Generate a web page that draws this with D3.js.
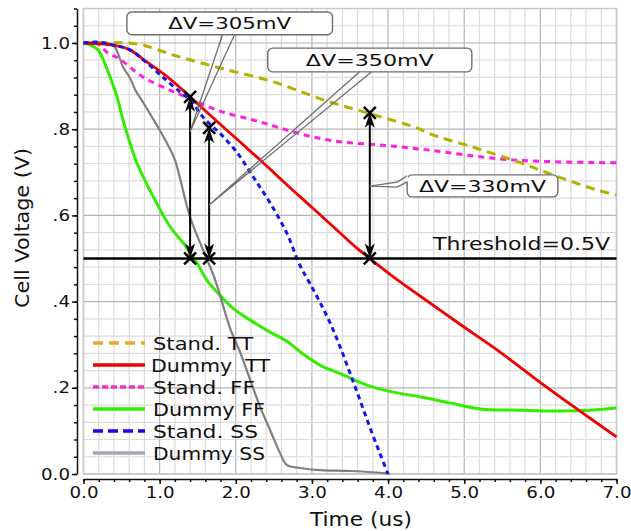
<!DOCTYPE html>
<html>
<head>
<meta charset="utf-8">
<script src="https://cdn.jsdelivr.net/npm/d3@7"></script>
<style>
    body { margin: 0; background: #fff; }
    text { font-family: "DejaVu Sans", sans-serif; fill: #111; }
</style>
</head>
<body>
<div id="chart"></div>
<script>
// curves: [time (us), voltage (V)]
const standTT = [[0,1.0],[0.57,1.0],[0.78,0.995],[1.18,0.972],[1.79,0.942],[2.49,0.910],[3.15,0.868],[3.76,0.836],[4.38,0.803],[4.55,0.789],[5.14,0.757],[5.71,0.724],[6.13,0.696],[6.74,0.659],[7.0,0.647]];
const dummyTT = [[0,1.0],[0.39,0.995],[0.61,0.984],[0.83,0.956],[1.04,0.930],[1.27,0.896],[1.40,0.875],[1.66,0.833],[2.02,0.776],[2.36,0.722],[2.67,0.671],[3.01,0.617],[3.37,0.559],[3.59,0.524],[3.76,0.500],[4.11,0.452],[4.42,0.413],[4.94,0.348],[5.47,0.283],[6.01,0.211],[6.52,0.146],[7.0,0.086]];
const standFF = [[0,1.0],[0.18,0.998],[0.32,0.977],[0.48,0.962],[0.78,0.921],[1.14,0.890],[1.36,0.874],[1.79,0.842],[2.32,0.817],[2.67,0.798],[3.01,0.782],[3.41,0.770],[3.93,0.763],[4.51,0.752],[5.60,0.729],[7.0,0.722]];
const dummyFF = [[0,1.0],[0.09,0.995],[0.19,0.984],[0.26,0.961],[0.35,0.921],[0.44,0.875],[0.52,0.821],[0.61,0.768],[0.70,0.722],[0.87,0.659],[1.14,0.573],[1.31,0.536],[1.49,0.490],[1.62,0.450],[1.79,0.415],[1.96,0.385],[2.19,0.357],[2.45,0.329],[2.67,0.308],[2.88,0.279],[3.11,0.252],[3.41,0.230],[3.76,0.204],[4.07,0.190],[4.42,0.179],[4.81,0.165],[5.21,0.151],[5.73,0.148],[6.26,0.146],[6.65,0.148],[7.0,0.153]];
const standSS = [[0,1.0],[0.18,1.002],[0.39,0.995],[0.61,0.984],[0.83,0.954],[1.04,0.921],[1.27,0.886],[1.40,0.868],[1.57,0.828],[1.70,0.805],[1.79,0.791],[2.02,0.745],[2.23,0.689],[2.45,0.629],[2.67,0.559],[2.84,0.485],[2.97,0.443],[3.11,0.397],[3.24,0.350],[3.37,0.295],[3.50,0.234],[3.63,0.172],[3.76,0.109],[3.89,0.049],[4.0,0.0]];
const dummySS = [[0,1.0],[0.22,1.002],[0.39,0.995],[0.45,0.977],[0.52,0.944],[0.61,0.919],[0.68,0.891],[0.78,0.863],[0.90,0.828],[1.00,0.798],[1.11,0.763],[1.20,0.729],[1.40,0.596],[1.57,0.520],[1.73,0.450],[1.92,0.341],[2.06,0.281],[2.19,0.218],[2.32,0.155],[2.45,0.102],[2.58,0.049],[2.67,0.021],[2.84,0.014],[3.11,0.009],[3.50,0.007],[3.96,0.002],[4.02,0.0]];

const seriesNames = ["Stand. TT", "Dummy  TT", "Stand. FF", "Dummy FF", "Stand. SS", "Dummy SS"];

const threshold = 0.5;
const thresholdLabel = "Threshold=0.5V";

// the three delta-V measurements: time, upper voltage, callout text, callout anchor voltage
const deltaTimes = [1.40, 1.65, 3.76];
const deltaTops = [0.875, 0.803, 0.838];
const deltaLabels = ["ΔV=305mV", "ΔV=350mV", "ΔV=330mV"];
const calloutAnchorV = [0.794, 0.624, 0.668];

const xTicks = [0, 1, 2, 3, 4, 5, 6, 7];
const xTickLabels = ["0.0", "1.0", "2.0", "3.0", "4.0", "5.0", "6.0", "7.0"];
const yTicks = [0, 0.2, 0.4, 0.6, 0.8, 1.0];
const yTickLabels = ["0.0", ".2", ".4", ".6", ".8", "1.0"];

class VoltageChart {

    constructor(parentElement) {
        this.parentElement = parentElement;
        this.initVis();
    }

    initVis() {
        let vis = this;
        vis.width = 631;
        vis.height = 531;
        vis.box = {left: 83.5, right: 616.5, top: 8.5, bottom: 474};

        vis.svg = d3.select("#" + vis.parentElement).append("svg")
            .attr("width", vis.width)
            .attr("height", vis.height);

        vis.x = d3.scaleLinear().domain([0, 7]).range([vis.box.left, vis.box.right]);
        vis.y = d3.scaleLinear().domain([0, 1.08]).range([vis.box.bottom, vis.box.top]);

        // grid
        let grid = vis.svg.append("g").attr("class", "grid");
        let xs = d3.range(0, 7.001, 0.2);
        let ys = d3.range(0, 1.081, 0.04);
        let isInt = v => Math.abs(v - Math.round(v)) < 1e-6;
        let isFifth = v => Math.abs(v * 5 - Math.round(v * 5)) < 1e-6;

        grid.selectAll(".vgrid").data(xs).enter().append("line")
            .attr("x1", d => vis.x(d)).attr("x2", d => vis.x(d))
            .attr("y1", vis.box.top).attr("y2", vis.box.bottom)
            .attr("stroke", d => isInt(d) ? "#b4b4b4" : "#dcdcdc")
            .attr("stroke-width", 1.2);
        grid.selectAll(".hgrid").data(ys).enter().append("line")
            .attr("x1", vis.box.left).attr("x2", vis.box.right)
            .attr("y1", d => vis.y(d)).attr("y2", d => vis.y(d))
            .attr("stroke", d => isFifth(d) ? "#b4b4b4" : "#dcdcdc")
            .attr("stroke-width", 1.2);
        grid.append("rect")
            .attr("x", vis.box.left).attr("y", vis.box.top)
            .attr("width", vis.box.right - vis.box.left)
            .attr("height", vis.box.bottom - vis.box.top)
            .attr("fill", "none").attr("stroke", "#c8c8c8").attr("stroke-width", 1.5);

        // axes, offset a few px from the plot box
        vis.svg.append("g").attr("transform", "translate(77,0)")
            .call(d3.axisLeft(vis.y).tickValues(yTicks)
                .tickFormat((d, i) => yTickLabels[i]).tickSize(5).tickSizeOuter(0).tickPadding(2));
        vis.svg.append("g").attr("transform", "translate(77,0)")
            .call(d3.axisLeft(vis.y).tickValues(ys).tickFormat("").tickSize(3).tickSizeOuter(0))
            .select(".domain").remove();

        vis.svg.append("g").attr("transform", "translate(0,479)")
            .call(d3.axisBottom(vis.x).tickValues(xTicks)
                .tickFormat((d, i) => xTickLabels[i]).tickSize(5).tickSizeOuter(0).tickPadding(3));
        vis.svg.append("g").attr("transform", "translate(0,479)")
            .call(d3.axisBottom(vis.x).tickValues(xs).tickFormat("").tickSize(3).tickSizeOuter(0))
            .select(".domain").remove();

        // tick labels in the original are a little wider than the font
        vis.svg.selectAll(".tick text")
            .style("font-size", "16px").attr("fill", "#111")
            .each(function () {
                let w = this.getComputedTextLength();
                if (w > 0) d3.select(this).attr("textLength", w * 1.14).attr("lengthAdjust", "spacingAndGlyphs");
            });
        vis.svg.selectAll(".domain, .tick line").attr("stroke", "#111").attr("stroke-width", 1.5);

        vis.svg.append("text")
            .attr("x", 361).attr("y", 526)
            .attr("text-anchor", "middle")
            .attr("textLength", 102).attr("lengthAdjust", "spacingAndGlyphs")
            .style("font-size", "19px")
            .text("Time (us)");
        vis.svg.append("text")
            .attr("transform", "translate(29,228) rotate(-90)")
            .attr("text-anchor", "middle")
            .attr("textLength", 160).attr("lengthAdjust", "spacingAndGlyphs")
            .style("font-size", "20px")
            .text("Cell Voltage (V)");

        vis.series = [
            {name: seriesNames[0], values: standTT, color: "#b5b000", legendColor: "#e6a825", width: 3, dash: "9,6", legendDash: "10,6"},
            {name: seriesNames[1], values: dummyTT, color: "#ee0000", legendColor: "#ee0000", width: 2.8, dash: null, legendDash: null},
            {name: seriesNames[2], values: standFF, color: "#ff1fdd", legendColor: "#ee33cc", width: 3, dash: "6,5", legendDash: "6,3"},
            {name: seriesNames[3], values: dummyFF, color: "#33ee00", legendColor: "#33ee00", width: 3, dash: null, legendDash: null},
            {name: seriesNames[4], values: standSS, color: "#1515ee", legendColor: "#2200ee", width: 3, dash: "5,4", legendDash: "10,5"},
            {name: seriesNames[5], values: dummySS, color: "#808080", legendColor: "#a6a6b8", width: 2.2, dash: null, legendDash: null}
        ];

        vis.updateVis();
    }

    updateVis() {
        let vis = this;

        let line = d3.line()
            .x(d => vis.x(d[0]))
            .y(d => vis.y(d[1]))
            .curve(d3.curveCatmullRom.alpha(0.5));

        // draw order so the red line stays on top like the original
        let order = [3, 5, 2, 0, 1, 4];
        vis.svg.append("g").selectAll(".curve")
            .data(order.map(i => vis.series[i]))
            .enter().append("path")
            .attr("class", "curve")
            .attr("d", d => line(d.values))
            .attr("fill", "none")
            .attr("stroke", d => d.color)
            .attr("stroke-width", d => d.width)
            .attr("stroke-dasharray", d => d.dash)
            .attr("stroke-linejoin", "round");

        // threshold
        vis.svg.append("line")
            .attr("x1", vis.box.left).attr("x2", vis.box.right)
            .attr("y1", vis.y(threshold)).attr("y2", vis.y(threshold))
            .attr("stroke", "#000").attr("stroke-width", 2.6);
        vis.svg.append("text")
            .attr("x", 610).attr("y", vis.y(threshold) - 8)
            .attr("text-anchor", "end")
            .attr("textLength", 177).attr("lengthAdjust", "spacingAndGlyphs")
            .style("font-size", "17px")
            .text(thresholdLabel);

        // delta-V arrows with x markers
        let arrows = vis.svg.append("g");
        let head = "M0,0 L-5,15 L0,11 L5,15 Z";
        deltaTimes.forEach((t, i) => {
            let px = vis.x(t), top = vis.y(deltaTops[i]), bot = vis.y(threshold);
            arrows.append("line")
                .attr("x1", px).attr("x2", px).attr("y1", top + 8).attr("y2", bot - 8)
                .attr("stroke", "#000").attr("stroke-width", 2);
            arrows.append("path").attr("d", head)
                .attr("transform", `translate(${px},${top})`).attr("fill", "#000");
            arrows.append("path").attr("d", head)
                .attr("transform", `translate(${px},${bot}) rotate(180)`).attr("fill", "#000");
            [top, bot].forEach(py => {
                arrows.append("path")
                    .attr("d", `M${px - 6},${py - 6}L${px + 6},${py + 6}M${px - 6},${py + 6}L${px + 6},${py - 6}`)
                    .attr("stroke", "#000").attr("stroke-width", 2.5);
            });
        });

        // callouts
        let c = vis.svg.append("g");
        let boxStyle = sel => sel.attr("fill", "#fff").attr("stroke", "#6e6e6e").attr("stroke-width", 1.4);
        let wedgeStyle = sel => sel.attr("fill", "none").attr("stroke", "#6e6e6e").attr("stroke-width", 1.3);

        // box extents in data units [t0, t1, v0, v1]
        let boxes = [[0.57, 3.27, 1.019, 1.072], [2.42, 5.10, 0.933, 0.988], [4.25, 6.23, 0.643, 0.694]];
        let textLen = [123, 128, 127];

        boxes.forEach((b, i) => {
            let ax = vis.x(deltaTimes[i]), ay = vis.y(calloutAnchorV[i]);
            let x0 = vis.x(b[0]), x1 = vis.x(b[1]), y0 = vis.y(b[3]), y1 = vis.y(b[2]);
            c.append("rect")
                .attr("x", x0).attr("y", y0).attr("width", x1 - x0).attr("height", y1 - y0)
                .attr("rx", 5).call(boxStyle);
            if (i < 2) {
                let bx = x0 + (x1 - x0) * (i === 0 ? 0.465 : 0.45);
                c.append("path")
                    .attr("d", `M${bx},${y1}L${ax},${ay}L${bx + 12},${y1}`)
                    .call(wedgeStyle);
            } else {
                c.append("path")
                    .attr("d", `M${x0},${y0 + 1}L${x0 - 10},${ay - 4}L${ax},${ay}L${x0 - 10},${ay + 1}L${x0},${y0 + 7}`)
                    .call(wedgeStyle);
                c.append("line")
                    .attr("x1", x0).attr("x2", x0).attr("y1", y0 + 1.5).attr("y2", y0 + 6.5)
                    .attr("stroke", "#fff").attr("stroke-width", 2);
            }
            c.append("text")
                .attr("x", (x0 + x1) / 2).attr("y", (y0 + y1) / 2 + 6)
                .attr("text-anchor", "middle")
                .attr("textLength", textLen[i]).attr("lengthAdjust", "spacingAndGlyphs")
                .style("font-size", "16px")
                .text(deltaLabels[i]);
        });

        // legend
        let legendLens = [100, 119, 102, 112, 105, 112];
        let legend = vis.svg.append("g").selectAll(".legend")
            .data(vis.series)
            .enter().append("g")
            .attr("class", "legend")
            .attr("transform", (d, i) => `translate(0,${343 + i * 22})`);
        legend.append("line")
            .attr("x1", 93).attr("x2", 145)
            .attr("stroke", d => d.legendColor)
            .attr("stroke-width", 3.5)
            .attr("stroke-dasharray", d => d.legendDash);
        legend.append("text")
            .attr("x", (d, i) => i === 1 ? 151 : 153)
            .attr("y", 6.5)
            .attr("textLength", (d, i) => legendLens[i]).attr("lengthAdjust", "spacingAndGlyphs")
            .style("font-size", "18px")
            .style("white-space", "pre")
            .text(d => d.name);
    }
}

new VoltageChart("chart");
</script>
</body>
</html>
